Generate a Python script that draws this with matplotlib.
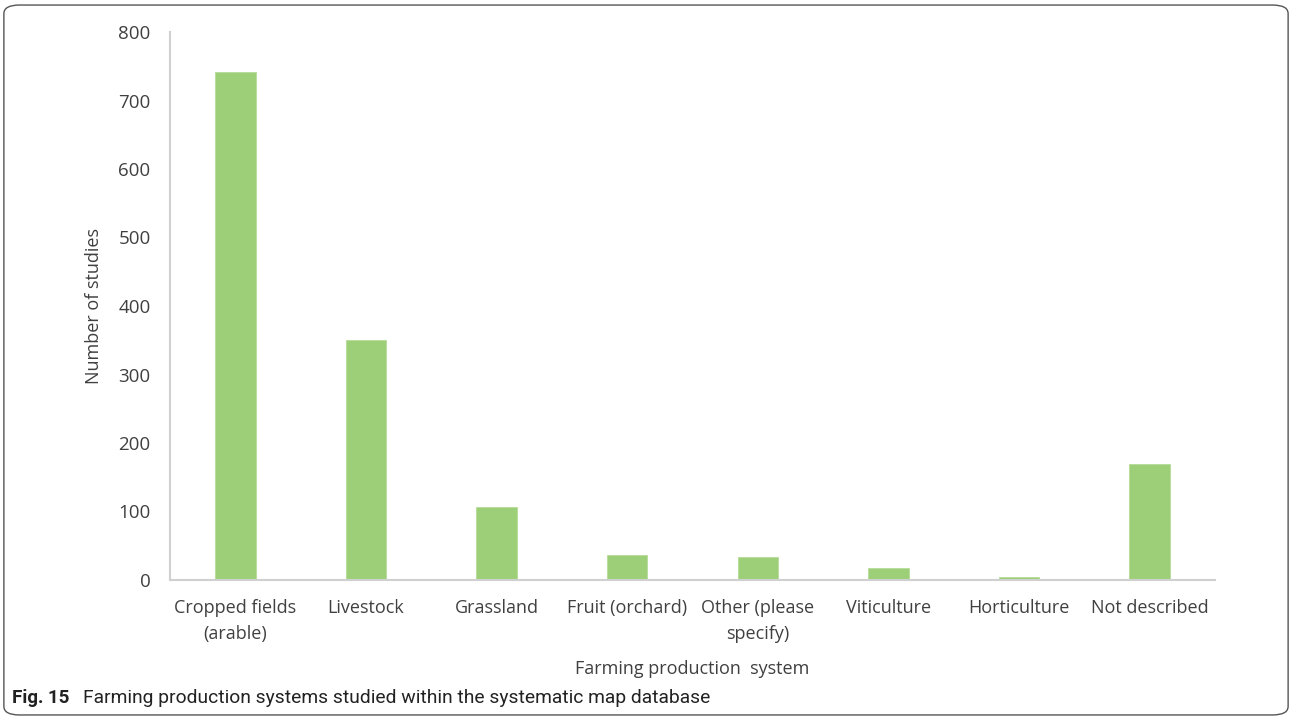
import matplotlib.pyplot as plt
from matplotlib.patches import FancyBboxPatch

# data
categorias = ["Cropped fields\n(arable)", "Livestock", "Grassland", "Fruit (orchard)",
              "Other (please\nspecify)", "Viticulture", "Horticulture", "Not described"]
valores = [742, 351, 107, 37, 34, 17, 4, 170]
yticks = [0, 100, 200, 300, 400, 500, 600, 700, 800]

plt.rcParams['font.family'] = ['Open Sans', 'DejaVu Sans']

fig = plt.figure(figsize=(12.92, 7.2), dpi=100)

# rounded frame around the figure
moldura = FancyBboxPatch((0.003, 0.007), 0.994, 0.986,
                         boxstyle="round,pad=0,rounding_size=0.012",
                         transform=fig.transFigure, fill=False,
                         edgecolor="#555555", linewidth=1.0)
fig.patches.append(moldura)

ax = fig.add_axes([170 / 1292, 140 / 720, 1045 / 1292, 548 / 720])

x = range(len(categorias))
ax.bar(x, valores, width=0.31, color="#9DCF78", edgecolor="#B5DC96", linewidth=0.6, zorder=2)

ax.set_xlim(-0.5, len(categorias) - 0.5)
ax.set_ylim(0, 800)
ax.set_yticks(yticks)
ax.set_xticks(list(x))
ax.set_xticklabels(categorias, fontsize=13, color="#404040", linespacing=1.55)
ax.tick_params(axis='x', length=0, labelsize=13, labelcolor="#404040", pad=14)
ax.tick_params(axis='y', length=0, labelsize=13.5, labelcolor="#404040", pad=14)

for lado in ["top", "right"]:
    ax.spines[lado].set_visible(False)
ax.spines["left"].set_color("#D0D0D0")
ax.spines["left"].set_linewidth(1.5)
ax.spines["bottom"].set_color("#D0D0D0")
ax.spines["bottom"].set_linewidth(1.5)

ax.set_ylabel("Number of studies", fontsize=13, color="#404040", labelpad=11)
ax.set_xlabel("Farming production  system", fontsize=13, color="#404040", labelpad=12)

# caption
fonte_legenda = ['Roboto', 'DejaVu Sans']
fig.text(12 / 1292, 1 - 698 / 720, "Fig. 15", fontsize=13.5, fontweight="bold",
         va="center", ha="left", color="#222222", family=fonte_legenda)
fig.text(83 / 1292, 1 - 698 / 720,
         "Farming production systems studied within the systematic map database",
         fontsize=13.9, va="center", ha="left", color="#222222", family=fonte_legenda)

fig.savefig("out.png", dpi=100)
